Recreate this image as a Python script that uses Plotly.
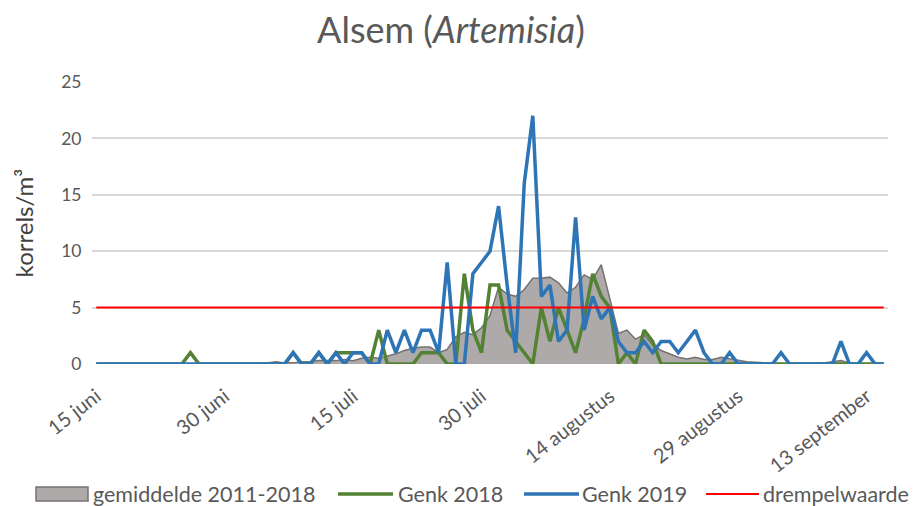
import pandas as pd
import plotly.graph_objects as go

start_date = "2019-06-15"
n_days = 93

gemiddelde = [0, 0, 0, 0, 0, 0, 0, 0, 0, 0,
              0, 0, 0, 0, 0, 0, 0, 0, 0, 0,
              0.1, 0.2, 0.1, 0.1, 0.2, 0.2, 0.3, 0.3, 0.3, 0.4,
              0.3, 0.5, 0.6, 0.5, 0.7, 0.9, 1.2, 1.4, 1.5, 1.5,
              1.0, 1.3, 2.4, 2.8, 2.6, 3.2, 4.3, 6.8, 6.2, 6.0,
              6.6, 7.6, 7.6, 7.7, 7.2, 6.3, 6.8, 7.9, 7.5, 8.8,
              5.8, 2.7, 3.0, 2.2, 2.6, 1.7, 1.2, 0.9, 0.6, 0.45,
              0.6, 0.4, 0.4, 0.6, 0.45, 0.3, 0.2, 0.15, 0.1, 0.1,
              0.05, 0, 0, 0, 0, 0.1, 0.2, 0.3, 0.1, 0,
              0, 0, 0]

genk_2018 = [0, 0, 0, 0, 0, 0, 0, 0, 0, 0,
             0, 1, 0, 0, 0, 0, 0, 0, 0, 0,
             0, 0, 0, 1, 0, 0, 1, 0, 1, 1,
             1, 1, 0, 3, 0, 0, 0, 0, 1, 1,
             1, 0, 0, 8, 3, 1, 7, 7, 3, 2,
             1, 0, 5, 2, 5, 3, 1, 4, 8, 6,
             5, 0, 1, 0, 3, 2, 0, 0, 0, 0,
             0, 0, 0, 0, 0, 0, 0, 0, 0, 0,
             0, 0, 0, 0, 0, 0, 0, 0, 0, 0,
             0, 0, 0]

genk_2019 = [0, 0, 0, 0, 0, 0, 0, 0, 0, 0,
             0, 0, 0, 0, 0, 0, 0, 0, 0, 0,
             0, 0, 0, 1, 0, 0, 1, 0, 1, 0,
             1, 1, 0, 0, 3, 1, 3, 1, 3, 3,
             1, 9, 0, 0, 8, 9, 10, 14, 7, 1,
             16, 22, 6, 7, 2, 3, 13, 3, 6, 4,
             5, 2, 1, 1, 2, 1, 2, 2, 1, 2,
             3, 1, 0, 0, 1, 0, 0, 0, 0, 0,
             1, 0, 0, 0, 0, 0, 0, 2, 0, 0,
             1, 0, 0]

drempelwaarde = 5

series_names = ["gemiddelde 2011-2018", "Genk 2018", "Genk 2019", "drempelwaarde"]

tick_dates = ["2019-06-15", "2019-06-30", "2019-07-15", "2019-07-30",
              "2019-08-14", "2019-08-29", "2019-09-13"]
tick_labels = ["15 juni", "30 juni", "15 juli", "30 juli",
               "14 augustus", "29 augustus", "13 september"]

dates = pd.date_range(start_date, periods=n_days, freq="D")

FONT = "Lato"
GREY_TXT = "#595959"
C_FILL, C_EDGE = "#aeaaaa", "#767171"
C_GREEN, C_BLUE, C_RED = "#548235", "#2e75b6", "#ff0000"

fig = go.Figure()
fig.add_trace(go.Scatter(
    x=dates, y=gemiddelde, name=series_names[0], mode="lines",
    fill="tozeroy", fillcolor=C_FILL, line=dict(color=C_EDGE, width=1.5),
    showlegend=False))
fig.add_trace(go.Scatter(
    x=dates, y=genk_2018, name=series_names[1], mode="lines",
    line=dict(color=C_GREEN, width=3.5), showlegend=False))
fig.add_trace(go.Scatter(
    x=dates, y=genk_2019, name=series_names[2], mode="lines",
    line=dict(color=C_BLUE, width=3.5), showlegend=False))
fig.add_trace(go.Scatter(
    x=dates, y=[drempelwaarde] * n_days, name=series_names[3], mode="lines",
    line=dict(color=C_RED, width=2), showlegend=False))

# Manual legend (pixel positions converted to paper coordinates)
L, R, T, B = 92, 31, 82, 142
PW, PH = 919 - L - R, 506 - T - B


def px(x):
    return (x - L) / PW


def py(y):
    return (506 - B - y) / PH


leg_y = 494
shapes = [
    dict(type="rect", xref="paper", yref="paper", x0=px(36), x1=px(88),
         y0=py(501), y1=py(487), fillcolor=C_FILL, line=dict(color=C_EDGE, width=1.5)),
    dict(type="line", xref="paper", yref="paper", x0=px(338), x1=px(393),
         y0=py(leg_y), y1=py(leg_y), line=dict(color=C_GREEN, width=3.5)),
    dict(type="line", xref="paper", yref="paper", x0=px(524), x1=px(579),
         y0=py(leg_y), y1=py(leg_y), line=dict(color=C_BLUE, width=3.5)),
    dict(type="line", xref="paper", yref="paper", x0=px(706), x1=px(759),
         y0=py(leg_y), y1=py(leg_y), line=dict(color=C_RED, width=2)),
]
text_x = [91, 396, 580, 761]
annotations = [
    dict(text=name, x=px(tx), y=py(leg_y), xref="paper", yref="paper",
         xanchor="left", yanchor="middle", showarrow=False,
         font=dict(family=FONT, size=21.5, color=GREY_TXT))
    for name, tx in zip(series_names, text_x)
]

fig.update_layout(
    width=919, height=506,
    margin=dict(l=L, r=R, t=T, b=B, autoexpand=False),
    paper_bgcolor="white", plot_bgcolor="white",
    font=dict(family=FONT, color=GREY_TXT),
    title=dict(text="Alsem (<i>Artemisia</i>)", x=451 / 919, xanchor="center",
               y=1 - 30 / 506, yanchor="middle", yref="container",
               font=dict(family=FONT, size=36, color=GREY_TXT)),
    showlegend=False,
    shapes=shapes,
    annotations=annotations,
)
fig.update_xaxes(
    type="date", automargin=False,
    range=["2019-06-14 12:00", "2019-09-15 12:00"],
    tickmode="array", tickvals=tick_dates, ticktext=tick_labels,
    tickangle=-38, showgrid=False, zeroline=False, showline=False,
    ticks="outside", ticklen=12, tickcolor="rgba(0,0,0,0)",
    tickfont=dict(family=FONT, size=20, color=GREY_TXT),
)
fig.update_yaxes(
    automargin=False,
    range=[0, 25], dtick=5, tick0=0,
    showgrid=True, gridcolor="#d9d9d9", gridwidth=1.5,
    zeroline=False, showline=False,
    ticks="outside", ticklen=6, tickcolor="rgba(0,0,0,0)",
    tickfont=dict(family=FONT, size=17.5, color=GREY_TXT),
    title=dict(text="korrels/m³", font=dict(family=FONT, size=24, color="#404040"),
               standoff=20),
)

fig.write_html("out.html", config={"displayModeBar": False},
               post_script="document.body.style.margin='0px';")
